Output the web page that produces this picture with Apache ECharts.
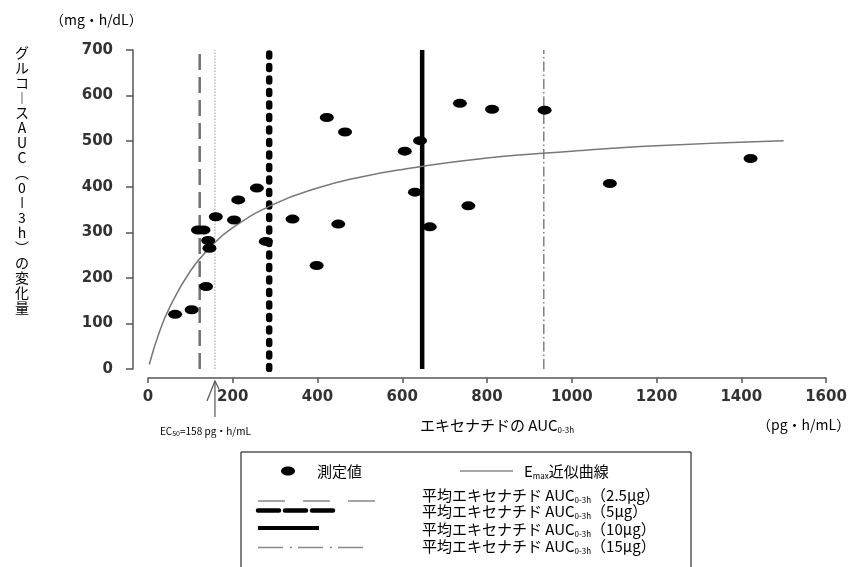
<!DOCTYPE html>
<html>
<head>
<meta charset="utf-8">
<script src="https://cdn.jsdelivr.net/npm/echarts@6/dist/echarts.min.js"></script>
<style>
  html, body { margin: 0; padding: 0; background: #fff; }
  #chart { width: 858px; height: 567px; }
</style>
</head>
<body>
<div id="chart"></div>
<script>
// Measured change in glucose AUC(0-3h) against exenatide AUC(0-3h)
const measuredX = [64, 103, 118, 131, 137, 142, 145, 160, 203, 213, 257, 278, 341, 398, 422, 449, 465, 606, 630, 642, 665, 736, 756, 812, 936, 1090, 1422];
const measuredY = [120, 130, 305, 305, 181, 282, 265, 334, 327, 371, 397, 280, 329, 227, 552, 318, 520, 478, 388, 501, 312, 583, 358, 570, 568, 407, 462];

// Emax approximation curve, sampled along the exposure range
const curveX = [3, 25, 50, 100, 150, 200, 300, 400, 500, 600, 800, 1000, 1200, 1500];
const curveY = [10, 76, 133, 215, 270, 310, 363, 397, 421, 438, 463, 478, 490, 501];

// Mean exenatide AUC(0-3h) for each dose
const doseLabels = ['2.5', '5', '10', '15'];
const meanAUC = [122, 286, 647, 934];

// EC50 of the Emax fit
const ec50 = 158;

// Axis ranges
const xMin = 0, xMax = 1600, xStep = 200;
const yMin = 0, yMax = 700, yStep = 100;

const CJK = '"Noto Sans CJK JP", "Noto Sans", sans-serif';
const NUM = '"DejaVu Sans", "Liberation Sans", sans-serif';

const doseStyles = [
  { color: '#707070', width: 2.5, type: [16, 7] },
  { color: '#000000', width: 6.5, type: [3, 9.5], cap: 'round' },
  { color: '#000000', width: 4.5, type: 'solid' },
  { color: '#808080', width: 1.5, type: [10, 3, 1.5, 3] }
];

const doseSeries = meanAUC.map((v, i) => ({
  name: '平均エキセナチド AUC(' + doseLabels[i] + 'μg)',
  type: 'line',
  data: [[v, yMin], [v, yMax]],
  symbol: 'none',
  silent: true,
  z: 2,
  lineStyle: doseStyles[i]
}));

const chart = echarts.init(document.getElementById('chart'), null, { renderer: 'canvas' });

const plainNumber = v => String(v);

const option = {
  animation: false,
  backgroundColor: '#ffffff',
  grid: { left: 148, right: 32, top: 50, bottom: 198 },
  xAxis: {
    type: 'value',
    min: xMin, max: xMax, interval: xStep,
    offset: 9,
    axisLine: { show: true, onZero: false, lineStyle: { color: '#555', width: 1.5 } },
    axisTick: { show: true, inside: false, length: 5, lineStyle: { color: '#555', width: 1.5 } },
    axisLabel: { margin: 12, color: '#333', fontSize: 15, fontWeight: 'bold', fontFamily: NUM, formatter: plainNumber },
    splitLine: { show: false }
  },
  yAxis: {
    type: 'value',
    min: yMin, max: yMax, interval: yStep,
    offset: 15,
    axisLine: { show: true, onZero: false, lineStyle: { color: '#555', width: 1.5 } },
    axisTick: { show: true, inside: false, length: 7, lineStyle: { color: '#555', width: 1.5 } },
    axisLabel: { margin: 20, color: '#333', fontSize: 15, fontWeight: 'bold', fontFamily: NUM, formatter: plainNumber },
    splitLine: { show: false }
  },
  series: [
    {
      name: 'EC50',
      type: 'line',
      data: [[ec50, yMin], [ec50, yMax]],
      symbol: 'none',
      silent: true,
      z: 2,
      lineStyle: { color: '#9a9a9a', width: 1, type: [1.5, 1.5] }
    },
    ...doseSeries,
    {
      name: 'Emax近似曲線',
      type: 'line',
      data: curveX.map((x, i) => [x, curveY[i]]),
      smooth: true,
      symbol: 'none',
      z: 3,
      lineStyle: { color: '#777', width: 1.5 }
    },
    {
      name: '測定値',
      type: 'scatter',
      data: measuredX.map((x, i) => [x, measuredY[i]]),
      symbol: 'circle',
      symbolSize: [14, 9],
      z: 5,
      itemStyle: { color: '#000', opacity: 1 }
    }
  ]
};
chart.setOption(option);

// Annotations and legend box
const origin = chart.convertToPixel({ gridIndex: 0 }, [xMin, yMin]);
const ecPt = chart.convertToPixel({ gridIndex: 0 }, [ec50, yMin]);
const axisY = origin[1] + 9;

const vTitle = ['グ', 'ル', 'コ', '︱', 'ス', 'A', 'U', 'C', '︵', '0', 'ǀ', '3', 'h', '︶', 'の', '変', '化', '量'];

const subRich = {
  a: { fontSize: 15, fontFamily: CJK, color: '#000', lineHeight: 18 },
  s: { fontSize: 8, fontFamily: CJK, color: '#000', lineHeight: 18, verticalAlign: 'bottom', padding: [6, 0, 0, 0] }
};

const legendLeft = 241, legendTop = 452;
const rowText = [495, 511, 529, 546];
const rowLine = [501, 510.5, 528, 547.5];
const sampleEnds = [383, 337, 319, 363];
const sampleStyles = [
  { stroke: '#888', lineWidth: 1.5, lineDash: [27, 18] },
  { stroke: '#000', lineWidth: 4.5, lineDash: [21, 6], lineCap: 'round' },
  { stroke: '#000', lineWidth: 4 },
  { stroke: '#888', lineWidth: 1.5, lineDash: [25, 7, 2, 6] }
];

const graphics = [
  // y unit
  { type: 'text', left: 50, top: 13, style: { text: '（mg・h/dL）', fontSize: 14, fontFamily: CJK, fill: '#000' } },
  // vertical y title
  { type: 'text', x: 22, y: 45, style: { text: vTitle.join('\n'), fontSize: 14, lineHeight: 15, fontFamily: CJK, fill: '#000', align: 'center', verticalAlign: 'top' } },
  // x title
  { type: 'text', x: 420, y: 425, style: { text: '{a|エキセナチドの AUC}{s|0-3h}', rich: subRich, verticalAlign: 'middle' } },
  // x unit
  { type: 'text', x: 757, y: 425, style: { text: '（pg・h/mL）', fontSize: 14, fontFamily: CJK, fill: '#000', verticalAlign: 'middle' } },
  // EC50 arrow
  { type: 'polyline', shape: { points: [[ecPt[0], axisY + 39], [ecPt[0], axisY + 3]] }, style: { stroke: '#555', lineWidth: 1.2, fill: null } },
  { type: 'polyline', shape: { points: [[ecPt[0] - 8, axisY + 23], [ecPt[0], axisY + 3], [ecPt[0] + 4, axisY + 11]] }, style: { stroke: '#555', lineWidth: 1.2, fill: null } },
  { type: 'text', x: ecPt[0] - 55, y: axisY + 53, style: {
      text: '{a|EC}{s|50}{a|=158 pg・h/mL}',
      rich: {
        a: { fontSize: 10, fontFamily: CJK, fill: '#000', lineHeight: 12 },
        s: { fontSize: 7, fontFamily: CJK, fill: '#000', lineHeight: 12, verticalAlign: 'bottom', padding: [3, 0, 0, 0] }
      },
      verticalAlign: 'middle' } },
  // legend frame
  { type: 'rect', shape: { x: legendLeft, y: legendTop, width: 450, height: 130 }, style: { stroke: '#000', lineWidth: 1, fill: '#fff' }, z: 1 },
  { type: 'ellipse', shape: { cx: 288, cy: 471, rx: 7, ry: 4.5 }, style: { fill: '#000' }, z: 2 },
  { type: 'text', x: 317, y: 471, style: { text: '測定値', fontSize: 15, fontFamily: CJK, fill: '#000', verticalAlign: 'middle' }, z: 2 },
  { type: 'line', shape: { x1: 460, y1: 471, x2: 513, y2: 471 }, style: { stroke: '#888', lineWidth: 1.5 }, z: 2 },
  { type: 'text', x: 524, y: 471, style: { text: '{a|E}{s|max}{a|近似曲線}', rich: subRich, verticalAlign: 'middle' }, z: 2 }
];

doseLabels.forEach((d, i) => {
  graphics.push({ type: 'line', shape: { x1: 258, y1: rowLine[i], x2: sampleEnds[i], y2: rowLine[i] }, style: sampleStyles[i], z: 2 });
  graphics.push({ type: 'text', x: 422, y: rowText[i], style: { text: '{a|平均エキセナチド AUC}{s|0-3h}{a|（' + d + 'μg）}', rich: subRich, verticalAlign: 'middle' }, z: 2 });
});

chart.setOption({ graphic: graphics });
</script>
</body>
</html>
